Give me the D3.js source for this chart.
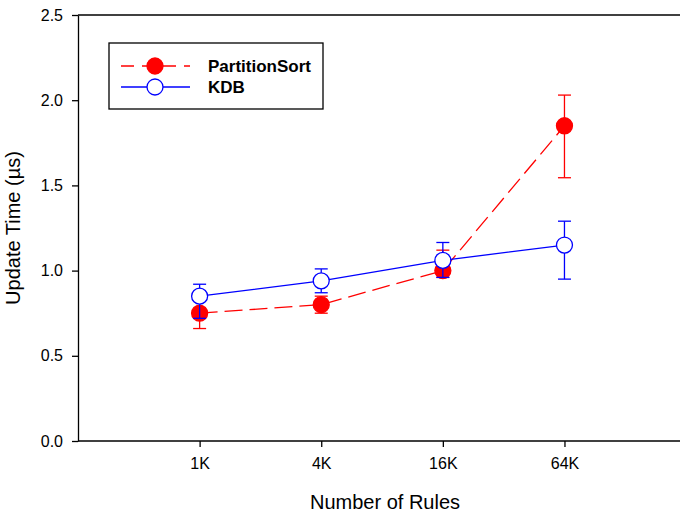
<!DOCTYPE html>
<html>
<head>
<meta charset="utf-8">
<script src="https://cdn.jsdelivr.net/npm/d3@7"></script>
<style>
  body { margin: 0; background: #fff; }
  text { font-family: Arial, "Liberation Sans", sans-serif; }
</style>
</head>
<body>
<div id="chart"></div>
<script>
// rule counts (in K) and tick labels
const rules = [1, 4, 16, 64];
const ruleLabels = ["1K", "4K", "16K", "64K"];
const yTicks = [0, 0.5, 1.0, 1.5, 2.0, 2.5];

// PartitionSort update time (µs) with error bar ends
const psMean = [0.75, 0.80, 1.00, 1.85];
const psLow = [0.66, 0.75, 0.96, 1.545];
const psHigh = [0.84, 0.85, 1.12, 2.03];

// KDB update time (µs) with error bar ends
const kdbMean = [0.85, 0.94, 1.06, 1.15];
const kdbLow = [0.72, 0.87, 0.96, 0.95];
const kdbHigh = [0.92, 1.01, 1.165, 1.29];

const width = 680, height = 515;
const margin = { top: 15, right: 0, bottom: 74, left: 78 };

const svg = d3.select("#chart").append("svg")
  .attr("width", width)
  .attr("height", height);

// log4 spacing of rule counts, axis runs off the right edge
const x = d3.scaleLog().base(4)
  .domain([0.25, 0.25 * Math.pow(4, 4.95)])
  .range([margin.left, width - margin.right]);
const y = d3.scaleLinear()
  .domain([0, 2.5])
  .range([height - margin.bottom, margin.top]);

// axes
const xAxis = svg.append("g")
  .attr("transform", `translate(0,${height - margin.bottom})`)
  .call(d3.axisBottom(x).tickValues(rules).tickFormat((d, i) => ruleLabels[i]).tickSize(6).tickPadding(11).tickSizeOuter(0));
const yAxis = svg.append("g")
  .attr("transform", `translate(${margin.left},0)`)
  .call(d3.axisLeft(y).tickValues(yTicks).tickFormat(d3.format(".1f")).tickSize(6).tickPadding(9).tickSizeOuter(0));

[xAxis, yAxis].forEach(g => {
  g.selectAll("text").style("font-size", "16px").attr("fill", "#000");
  g.selectAll("line, path").attr("stroke", "#000").attr("stroke-width", 1.3);
});
xAxis.select(".domain").attr("d", `M${margin.left},0H${width}`);

// top frame line
svg.append("line")
  .attr("x1", margin.left).attr("x2", width)
  .attr("y1", margin.top).attr("y2", margin.top)
  .attr("stroke", "#000").attr("stroke-width", 1.3);

// axis titles
svg.append("text")
  .attr("x", 385).attr("y", 509)
  .attr("text-anchor", "middle")
  .style("font-size", "20px")
  .text("Number of Rules");
svg.append("text")
  .attr("transform", `translate(20,${(margin.top + height - margin.bottom) / 2}) rotate(-90)`)
  .attr("text-anchor", "middle")
  .style("font-size", "20px")
  .text("Update Time (µs)");

function drawSeries(mean, low, high, color, dash, filled) {
  const pts = rules.map((r, i) => ({ r, m: mean[i], lo: low[i], hi: high[i] }));
  const g = svg.append("g");

  g.append("path")
    .datum(pts)
    .attr("fill", "none")
    .attr("stroke", color)
    .attr("stroke-width", 1.3)
    .attr("stroke-dasharray", dash)
    .attr("d", d3.line().x(d => x(d.r)).y(d => y(d.m)));

  const bars = g.selectAll(".err").data(pts).enter().append("g");
  bars.append("line")
    .attr("x1", d => x(d.r)).attr("x2", d => x(d.r))
    .attr("y1", d => y(d.lo)).attr("y2", d => y(d.hi));
  bars.append("line")
    .attr("x1", d => x(d.r) - 6.5).attr("x2", d => x(d.r) + 6.5)
    .attr("y1", d => y(d.lo)).attr("y2", d => y(d.lo));
  bars.append("line")
    .attr("x1", d => x(d.r) - 6.5).attr("x2", d => x(d.r) + 6.5)
    .attr("y1", d => y(d.hi)).attr("y2", d => y(d.hi));
  bars.selectAll("line").attr("stroke", color).attr("stroke-width", 1.3);

  g.selectAll("circle").data(pts).enter().append("circle")
    .attr("cx", d => x(d.r))
    .attr("cy", d => y(d.m))
    .attr("r", 8)
    .attr("fill", filled ? color : "#fff")
    .attr("stroke", color)
    .attr("stroke-width", 1.3);
}

drawSeries(psMean, psLow, psHigh, "#ff0000", "18,7", true);
drawSeries(kdbMean, kdbLow, kdbHigh, "#0000ff", null, false);

// legend
const legend = svg.append("g");
legend.append("rect")
  .attr("x", 109).attr("y", 43)
  .attr("width", 214).attr("height", 66)
  .attr("fill", "#fff")
  .attr("stroke", "#000")
  .attr("stroke-width", 1.3);

const legendItems = [
  { name: "PartitionSort", color: "#ff0000", dash: "13,8", filled: true, y: 66 },
  { name: "KDB", color: "#0000ff", dash: null, filled: false, y: 87 }
];
legendItems.forEach(it => {
  legend.append("line")
    .attr("x1", 121).attr("x2", 190)
    .attr("y1", it.y).attr("y2", it.y)
    .attr("stroke", it.color)
    .attr("stroke-width", 1.3)
    .attr("stroke-dasharray", it.dash);
  legend.append("circle")
    .attr("cx", 155).attr("cy", it.y).attr("r", 8)
    .attr("fill", it.filled ? it.color : "#fff")
    .attr("stroke", it.color)
    .attr("stroke-width", 1.3);
  legend.append("text")
    .attr("x", 208).attr("y", it.y + 6)
    .style("font-size", "17px")
    .style("font-weight", "bold")
    .text(it.name);
});
</script>
</body>
</html>
